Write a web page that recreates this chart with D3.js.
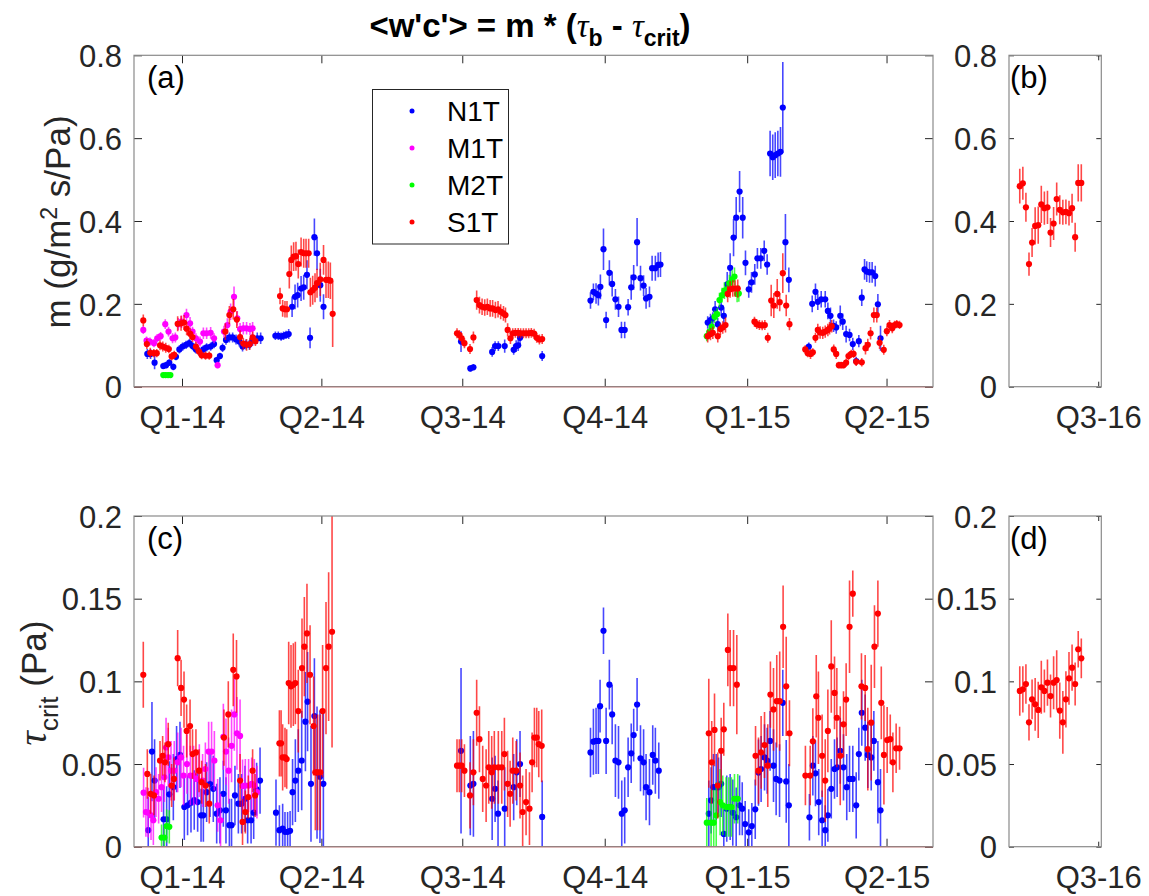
<!DOCTYPE html>
<html>
<head>
<meta charset="utf-8">
<script src="https://cdn.jsdelivr.net/npm/d3@7"></script>
<style>
  body { margin: 0; background: #fff; }
  svg text { font-family: "Liberation Sans", Arial, Helvetica, sans-serif; }
</style>
</head>
<body>
<svg id="chart" width="1149" height="896"></svg>
<script>
// Rows are [day since 2014-01-01, value, half-width of error bar]

// ---- N1T ----
const n1tM = [
  [-22.4,0.079,0.012],[-20.3,0.079,0.012],[-17.7,0.058,0.016],[-12.1,0.050,0.008],[-10.3,0.052,0.008],[-8.2,0.058,0.008],[-5.6,0.048,0.008],[-3.9,0.072,0.008],[-1.7,0.090,0.010],[0.4,0.097,0.010],[2.6,0.101,0.010],[4.7,0.105,0.010],[6.8,0.098,0.010],[9.0,0.090,0.010],[11.2,0.085,0.010],[13.8,0.090,0.010],[15.9,0.095,0.010],[18.5,0.097,0.010],[20.7,0.103,0.010],[22.4,0.064,0.008],[24.5,0.074,0.008],[26.2,0.094,0.010],[28.4,0.113,0.012],[30.6,0.119,0.012],[32.7,0.119,0.012],[34.9,0.114,0.012],[37.0,0.109,0.012],[39.1,0.097,0.012],[41.3,0.102,0.012],[43.5,0.101,0.012],[45.6,0.113,0.014],[48.6,0.117,0.014],[50.8,0.117,0.014],
  [60.3,0.123,0.010],[62.2,0.123,0.010],[64.0,0.121,0.010],[65.6,0.123,0.010],[67.2,0.125,0.010],[68.9,0.127,0.012],[71.1,0.193,0.025],[73.0,0.217,0.030],[74.7,0.221,0.030],[76.9,0.237,0.030],[78.6,0.240,0.030],[80.7,0.270,0.035],[82.7,0.118,0.025],[85.5,0.361,0.045],[87.2,0.322,0.040],[89.3,0.245,0.040],[91.4,0.193,0.030],
  [180.2,0.109,0.025],[186.2,0.044,0.008],[188.2,0.047,0.008],[200.3,0.084,0.012],[202.2,0.098,0.012],[204.3,0.098,0.012],[208.4,0.098,0.016],[214.2,0.089,0.012],[215.8,0.098,0.014],[217.1,0.100,0.014],[218.3,0.118,0.016],[232.6,0.074,0.012],
  [263.8,0.208,0.020],[265.7,0.229,0.020],[267.4,0.225,0.025],[268.9,0.221,0.025],[270.2,0.241,0.030],[272.2,0.332,0.050],[273.9,0.161,0.020],[276.0,0.275,0.030],[277.8,0.248,0.030],[279.9,0.211,0.025],[281.9,0.193,0.025],[283.8,0.137,0.020],[285.9,0.137,0.020],[288.1,0.192,0.020],[290.1,0.240,0.030],[291.7,0.264,0.030],[293.9,0.349,0.058],[296.1,0.262,0.030],[298.1,0.244,0.025],[299.7,0.213,0.025],[301.9,0.217,0.025],[303.6,0.286,0.030],[305.7,0.286,0.030],[307.5,0.294,0.030],[309.0,0.295,0.030],
  [339.5,0.155,0.015],[341.3,0.161,0.015],[342.8,0.165,0.015],[344.3,0.187,0.020],[346.0,0.151,0.015],[348.2,0.191,0.020],[349.9,0.171,0.020],[352.1,0.247,0.030],[354.0,0.287,0.035],[356.2,0.360,0.045],[357.9,0.408,0.050],[360.1,0.471,0.050],[362.1,0.408,0.050],[363.9,0.299,0.030],[366.0,0.235,0.020],[367.8,0.252,0.025],[369.9,0.271,0.025],[371.6,0.310,0.025],[373.8,0.310,0.025],[376.0,0.328,0.025],[377.9,0.295,0.025],[379.8,0.563,0.055],[381.5,0.554,0.055],[383.1,0.559,0.055],[384.8,0.563,0.055],[386.5,0.567,0.060],[388.0,0.674,0.110],[389.7,0.349,0.068],[391.9,0.258,0.030],[404.8,0.097,0.010],[407.0,0.200,0.020],[409.1,0.229,0.020],[410.6,0.205,0.020],[412.8,0.211,0.020],[415.4,0.211,0.020],[417.1,0.183,0.020],[418.8,0.171,0.020],[420.8,0.147,0.015],[422.5,0.143,0.015],[425.1,0.171,0.025],[426.7,0.157,0.020],[428.9,0.127,0.020],[431.1,0.125,0.015],[433.2,0.103,0.015],[435.4,0.062,0.010],[437.1,0.110,0.015],[439.0,0.215,0.020],[440.8,0.283,0.025],[442.2,0.278,0.025],[444.0,0.276,0.025],[445.7,0.276,0.025],[447.7,0.267,0.025],[449.4,0.199,0.025],[451.1,0.117,0.030]
];
const n1tTau = [
  [-21.8,0.010,0.020],[-19.4,0.0575,0.030],[-17.7,0.040,0.025],[-11.9,0.0166,0.020],[-9.9,0.0166,0.020],[-8.2,0.0317,0.020],[-5.6,0.036,0.020],[-3.5,0.053,0.020],[-1.3,0.0555,0.020],[1.5,0.024,0.020],[3.6,0.025,0.018],[5.8,0.0266,0.018],[7.9,0.0282,0.018],[10.1,0.027,0.018],[12.3,0.019,0.016],[13.8,0.019,0.016],[15.9,0.033,0.018],[18.1,0.038,0.020],[20.2,0.035,0.020],[22.4,0.020,0.018],[24.5,0.022,0.020],[26.7,0.032,0.020],[28.4,0.022,0.020],[30.6,0.013,0.016],[32.0,0.013,0.016],[34.2,0.031,0.018],[36.4,0.026,0.018],[38.5,0.026,0.018],[40.7,0.029,0.020],[42.4,0.016,0.014],[44.6,0.016,0.014],[46.3,0.0206,0.016],[48.2,0.0347,0.016],[50.4,0.040,0.020],
  [60.7,0.0206,0.020],[62.9,0.010,0.015],[65.0,0.011,0.015],[66.5,0.009,0.012],[68.2,0.009,0.012],[69.8,0.0096,0.012],[71.4,0.033,0.020],[73.2,0.040,0.025],[75.1,0.046,0.025],[77.3,0.052,0.030],[79.7,0.0756,0.030],[81.1,0.0877,0.030],[83.3,0.038,0.035],[85.5,0.079,0.035],[87.2,0.0448,0.040],[89.1,0.0423,0.040],[91.3,0.038,0.045],
  [180.2,0.058,0.050],[186.2,0.037,0.030],[188.2,0.038,0.032],[200.3,0.029,0.025],[202.2,0.035,0.020],[204.1,0.020,0.020],[208.4,0.023,0.025],[214.2,0.036,0.020],[216.2,0.045,0.020],[218.3,0.050,0.020],[232.6,0.018,0.022],
  [263.8,0.057,0.015],[265.7,0.0635,0.020],[267.4,0.064,0.020],[268.9,0.064,0.020],[270.0,0.085,0.016],[272.2,0.1306,0.014],[273.9,0.064,0.020],[276.0,0.098,0.015],[277.8,0.080,0.018],[279.9,0.052,0.022],[281.9,0.051,0.022],[284.0,0.020,0.020],[285.9,0.022,0.020],[288.1,0.048,0.018],[290.1,0.0565,0.018],[291.7,0.0675,0.016],[293.9,0.086,0.016],[296.1,0.0535,0.020],[298.1,0.051,0.020],[299.7,0.036,0.020],[301.9,0.033,0.020],[304.0,0.0555,0.018],[305.7,0.052,0.020],[307.9,0.046,0.017],
  [340.2,0.020,0.020],[341.7,0.028,0.020],[343.2,0.036,0.020],[345.0,0.036,0.020],[346.5,0.036,0.018],[348.2,0.038,0.020],[349.9,0.0077,0.015],[351.8,0.023,0.020],[354.0,0.024,0.020],[355.7,0.0206,0.020],[357.9,0.0178,0.018],[360.1,0.025,0.018],[361.8,0.023,0.016],[363.7,0.0137,0.014],[366.0,0.0087,0.014],[368.0,0.0125,0.014],[370.2,0.0226,0.018],[372.3,0.0448,0.020],[374.0,0.047,0.020],[376.2,0.054,0.020],[377.9,0.052,0.020],[379.8,0.064,0.018],[382.0,0.049,0.022],[383.7,0.041,0.022],[385.9,0.040,0.022],[388.0,0.087,0.020],[390.2,0.0395,0.025],[391.9,0.025,0.025],[405.2,0.0178,0.014],[407.4,0.049,0.018],[409.1,0.0444,0.020],[411.2,0.027,0.020],[413.4,0.016,0.018],[415.4,0.010,0.015],[417.1,0.019,0.016],[419.3,0.035,0.018],[421.4,0.047,0.018],[423.1,0.048,0.018],[425.1,0.058,0.020],[427.2,0.048,0.020],[429.3,0.036,0.020],[431.1,0.041,0.020],[433.2,0.041,0.020],[435.4,0.025,0.020],[437.1,0.056,0.016],[439.0,0.081,0.020],[441.2,0.072,0.020],[442.9,0.0555,0.020],[445.1,0.054,0.020],[446.8,0.064,0.018],[449.4,0.039,0.025],[451.1,0.022,0.025]
];

// ---- M1T ----
const m1tM = [
  [-25.0,0.137,0.010],[-22.9,0.111,0.010],[-20.7,0.109,0.010],[-18.1,0.105,0.010],[-16.0,0.117,0.010],[-13.8,0.122,0.010],[-10.8,0.151,0.012],[-8.7,0.133,0.012],[-6.1,0.117,0.012],[-4.3,0.119,0.012],[-2.4,0.151,0.015],[-0.3,0.157,0.015],[2.9,0.173,0.015],[5.2,0.153,0.015],[6.8,0.133,0.012],[9.0,0.117,0.012],[11.6,0.109,0.012],[13.8,0.129,0.014],[15.9,0.129,0.014],[18.5,0.130,0.014],[20.7,0.117,0.012],[23.0,0.052,0.008],[27.1,0.133,0.014],[29.3,0.149,0.016],[31.4,0.181,0.020],[33.6,0.217,0.025],[35.7,0.165,0.018],[37.5,0.139,0.015],[39.6,0.141,0.015],[41.7,0.141,0.015],[43.9,0.139,0.015],[45.6,0.141,0.015]
];
const m1tTau = [
  [-24.8,0.0327,0.015],[-23.3,0.021,0.015],[-21.8,0.0206,0.015],[-20.0,0.019,0.015],[-18.5,0.016,0.015],[-16.8,0.033,0.015],[-15.1,0.029,0.015],[-13.2,0.036,0.015],[-11.4,0.042,0.015],[-10.3,0.060,0.018],[-8.9,0.054,0.018],[-7.1,0.046,0.018],[-5.0,0.046,0.018],[-2.8,0.051,0.018],[-0.6,0.054,0.018],[1.0,0.043,0.018],[3.2,0.050,0.018],[5.4,0.043,0.018],[7.5,0.043,0.018],[9.4,0.041,0.016],[11.2,0.046,0.016],[13.3,0.040,0.016],[15.1,0.047,0.016],[17.2,0.0575,0.018],[19.1,0.0575,0.018],[20.9,0.052,0.018],[23.0,0.025,0.016],[24.9,0.016,0.016],[26.7,0.0665,0.020],[28.4,0.0575,0.020],[30.1,0.046,0.020],[32.0,0.061,0.022],[33.8,0.080,0.022],[35.5,0.0686,0.022],[37.5,0.067,0.022],[39.1,0.0367,0.016],[40.9,0.037,0.016],[43.0,0.037,0.016],[45.0,0.038,0.016],[46.7,0.037,0.016],[48.4,0.033,0.016]
];

// ---- M2T ----
const m2tM = [
  [-12.1,0.028,0.004],[-10.6,0.028,0.004],[-9.0,0.028,0.004],[-7.5,0.028,0.004],
  [338.9,0.122,0.012],[340.6,0.133,0.012],[342.1,0.145,0.014],[343.9,0.169,0.015],[345.6,0.175,0.015],[347.1,0.209,0.018],[348.8,0.221,0.018],[350.3,0.232,0.020],[352.1,0.235,0.020],[353.5,0.250,0.020],[355.3,0.259,0.022],[356.8,0.266,0.022],[358.5,0.224,0.020],[359.6,0.225,0.020]
];
const m2tTau = [
  [-13.2,0.0055,0.008],[-11.4,0.0055,0.008],[-9.9,0.0125,0.010],[-8.2,0.012,0.010],
  [338.9,0.0145,0.015],[341.7,0.0145,0.020],[343.4,0.0145,0.020],[345.0,0.019,0.020],[347.5,0.027,0.020],[349.2,0.025,0.018],[351.4,0.024,0.018],[353.1,0.024,0.018],[354.8,0.024,0.018],[356.8,0.029,0.015],[358.9,0.029,0.015]
];

// ---- S1T ----
const s1tM = [
  [-25.0,0.160,0.014],[-22.7,0.103,0.012],[-20.5,0.082,0.012],[-18.2,0.081,0.010],[-16.3,0.081,0.010],[-14.2,0.100,0.012],[-12.4,0.097,0.012],[-10.5,0.094,0.012],[-8.5,0.091,0.010],[-6.7,0.073,0.010],[-5.0,0.077,0.010],[-2.8,0.152,0.018],[-0.6,0.153,0.018],[1.3,0.155,0.018],[3.0,0.140,0.016],[5.2,0.128,0.014],[6.8,0.120,0.012],[9.0,0.097,0.012],[11.0,0.085,0.010],[12.7,0.076,0.010],[15.2,0.075,0.010],[17.6,0.075,0.010],[28.0,0.133,0.020],[30.6,0.173,0.022],[33.1,0.187,0.025],[35.4,0.162,0.020],[37.5,0.120,0.016],[39.6,0.104,0.014],[41.7,0.101,0.014],[43.8,0.103,0.014],[45.6,0.119,0.014],[47.4,0.110,0.012],
  [63.3,0.219,0.020],[65.0,0.189,0.020],[66.5,0.187,0.020],[67.8,0.187,0.020],[69.3,0.272,0.035],[70.6,0.306,0.035],[72.1,0.314,0.035],[73.6,0.315,0.035],[75.1,0.296,0.035],[76.9,0.325,0.035],[78.6,0.322,0.035],[80.1,0.322,0.035],[81.8,0.322,0.035],[82.9,0.228,0.035],[84.4,0.233,0.035],[85.9,0.239,0.035],[87.2,0.250,0.035],[89.3,0.259,0.040],[91.4,0.306,0.036],[93.0,0.258,0.044],[94.5,0.258,0.044],[95.8,0.256,0.044],[97.3,0.176,0.080],
  [177.6,0.129,0.012],[179.1,0.125,0.012],[180.6,0.117,0.012],[182.4,0.105,0.012],[186.0,0.091,0.012],[188.2,0.119,0.014],[190.3,0.209,0.023],[192.1,0.197,0.020],[193.8,0.193,0.020],[195.5,0.191,0.020],[197.2,0.193,0.020],[199.0,0.189,0.020],[200.6,0.189,0.020],[202.4,0.185,0.020],[204.1,0.187,0.020],[205.8,0.181,0.018],[207.6,0.177,0.018],[208.9,0.173,0.018],[210.3,0.137,0.016],[212.1,0.117,0.014],[213.6,0.129,0.012],[215.3,0.130,0.012],[217.1,0.130,0.012],[218.7,0.129,0.012],[220.5,0.129,0.012],[222.2,0.129,0.012],[223.9,0.129,0.012],[225.6,0.130,0.012],[227.4,0.128,0.012],[229.1,0.118,0.012],[230.8,0.114,0.012],[232.6,0.115,0.012],
  [339.5,0.122,0.015],[341.3,0.127,0.015],[342.8,0.130,0.015],[346.0,0.122,0.015],[347.7,0.139,0.015],[349.2,0.143,0.015],[351.0,0.149,0.018],[352.4,0.224,0.020],[354.0,0.235,0.020],[355.7,0.237,0.020],[357.2,0.237,0.020],[358.9,0.237,0.022],[369.7,0.157,0.012],[371.2,0.151,0.012],[372.9,0.149,0.012],[374.7,0.148,0.012],[376.4,0.149,0.012],[378.3,0.118,0.012],[380.5,0.208,0.038],[382.2,0.196,0.030],[384.4,0.224,0.036],[386.0,0.204,0.022],[388.0,0.274,0.048],[390.2,0.196,0.026],[392.3,0.151,0.015],[402.5,0.090,0.010],[404.1,0.081,0.010],[405.9,0.079,0.012],[407.4,0.083,0.010],[409.1,0.118,0.012],[410.6,0.137,0.015],[412.1,0.131,0.015],[413.8,0.130,0.015],[415.4,0.133,0.015],[417.1,0.137,0.015],[418.2,0.141,0.015],[419.6,0.146,0.015],[420.9,0.090,0.012],[422.5,0.079,0.012],[424.2,0.052,0.008],[425.7,0.052,0.008],[427.2,0.052,0.008],[428.9,0.058,0.010],[430.4,0.074,0.010],[432.2,0.079,0.010],[433.7,0.079,0.010],[435.4,0.060,0.010],[439.0,0.059,0.010],[441.4,0.093,0.015],[442.9,0.101,0.015],[444.7,0.129,0.015],[446.8,0.173,0.018],[448.7,0.173,0.018],[450.5,0.106,0.015],[453.2,0.089,0.012],[455.2,0.134,0.012],[456.9,0.149,0.012],[458.7,0.141,0.012],[460.2,0.149,0.010],[461.6,0.151,0.010],[463.4,0.149,0.010]
];
const s1tTau = [
  [-25.0,0.104,0.020],[-22.4,0.044,0.015],[-20.3,0.032,0.012],[-18.1,0.031,0.012],[-14.2,0.052,0.012],[-12.5,0.055,0.012],[-11.0,0.051,0.012],[-8.9,0.062,0.013],[-6.7,0.037,0.013],[-5.2,0.041,0.013],[-2.8,0.114,0.017],[-0.6,0.096,0.017],[1.3,0.089,0.017],[3.0,0.070,0.016],[5.2,0.073,0.016],[6.8,0.056,0.015],[9.0,0.057,0.014],[11.0,0.046,0.013],[12.7,0.039,0.013],[15.2,0.037,0.013],[17.6,0.026,0.012],[27.1,0.066,0.017],[29.9,0.080,0.020],[33.1,0.107,0.022],[35.2,0.103,0.022],[37.5,0.040,0.016],[39.1,0.015,0.014],[40.9,0.021,0.013],[42.8,0.030,0.013],[45.6,0.046,0.013],[47.2,0.031,0.013],
  [62.9,0.0625,0.020],[64.0,0.0625,0.020],[65.0,0.054,0.020],[66.5,0.054,0.018],[67.6,0.053,0.018],[68.9,0.099,0.025],[70.4,0.097,0.025],[71.9,0.098,0.025],[73.2,0.099,0.025],[75.1,0.082,0.025],[77.5,0.108,0.030],[79.0,0.121,0.030],[80.7,0.129,0.030],[82.7,0.104,0.030],[85.0,0.073,0.030],[86.1,0.045,0.035],[87.6,0.045,0.035],[89.3,0.045,0.035],[90.8,0.082,0.040],[93.0,0.108,0.040],[94.7,0.121,0.045],[96.9,0.130,0.070],
  [177.6,0.049,0.016],[179.1,0.049,0.016],[180.6,0.049,0.016],[182.4,0.046,0.016],[186.0,0.031,0.020],[188.2,0.045,0.020],[190.3,0.081,0.020],[192.1,0.065,0.020],[194.2,0.041,0.020],[196.4,0.037,0.022],[198.1,0.048,0.022],[200.0,0.045,0.022],[201.7,0.048,0.022],[204.3,0.048,0.022],[206.5,0.048,0.022],[208.2,0.056,0.022],[210.3,0.038,0.020],[211.9,0.032,0.020],[213.6,0.046,0.020],[215.8,0.046,0.018],[218.3,0.037,0.020],[220.0,0.021,0.022],[222.2,0.027,0.020],[224.4,0.023,0.022],[226.1,0.051,0.018],[227.6,0.066,0.018],[229.1,0.066,0.018],[230.4,0.062,0.020],[232.3,0.061,0.022],
  [340.2,0.0686,0.033],[342.1,0.051,0.025],[343.9,0.0706,0.022],[346.0,0.037,0.020],[348.2,0.058,0.020],[349.9,0.071,0.016],[352.5,0.119,0.022],[354.0,0.108,0.023],[356.2,0.108,0.023],[358.3,0.098,0.030],
  [370.4,0.055,0.018],[372.3,0.046,0.020],[374.0,0.057,0.022],[376.2,0.0615,0.020],[378.3,0.049,0.025],[380.0,0.092,0.020],[382.0,0.083,0.025],[384.1,0.088,0.028],[386.0,0.088,0.030],[388.2,0.133,0.025],[390.2,0.097,0.030],[392.3,0.0686,0.020],
  [402.6,0.043,0.018],[405.7,0.043,0.018],[407.4,0.0637,0.020],[409.6,0.091,0.025],[411.0,0.078,0.028],[413.4,0.055,0.025],[415.4,0.040,0.025],[417.1,0.070,0.025],[419.3,0.109,0.028],[421.4,0.093,0.022],[422.9,0.078,0.030],[425.1,0.055,0.030],[427.2,0.074,0.020],[428.9,0.089,0.022],[431.1,0.133,0.028],[433.2,0.153,0.014],
  [438.8,0.097,0.020],[441.2,0.096,0.020],[442.9,0.059,0.025],[445.1,0.075,0.035],[447.2,0.121,0.025],[449.4,0.141,0.020],[451.6,0.087,0.022],[453.3,0.0555,0.030],[455.4,0.0645,0.020],[457.4,0.065,0.015],[459.1,0.051,0.018],[461.2,0.0595,0.015],[463.4,0.0595,0.013]
];

// S1T, 2016 deployment
const s1tM16 = [
  [861,0.484,0.042],[863,0.491,0.040],[865,0.433,0.035],[867,0.296,0.028],[869,0.348,0.035],[871,0.388,0.045],[873,0.390,0.045],[875,0.440,0.045],[877,0.431,0.040],[879,0.433,0.040],[881,0.372,0.035],[883,0.394,0.040],[885,0.453,0.040],[887,0.427,0.035],[889,0.421,0.030],[891,0.422,0.030],[893,0.419,0.030],[895,0.431,0.035],[897,0.361,0.035],[899,0.492,0.045],[901,0.492,0.045]
];
const s1tTau16 = [
  [861,0.0942,0.015],[863,0.0952,0.014],[865,0.0984,0.012],[867,0.0752,0.011],[869,0.0891,0.012],[871,0.0861,0.016],[873,0.0827,0.017],[875,0.0964,0.016],[877,0.0942,0.013],[879,0.0992,0.014],[881,0.0911,0.013],[883,0.0992,0.016],[885,0.1008,0.018],[887,0.0823,0.017],[889,0.0752,0.019],[891,0.0891,0.017],[893,0.1018,0.016],[895,0.1083,0.014],[897,0.0984,0.013],[899,0.1194,0.011],[901,0.1139,0.012]
];

// Series names and colours, in plotting order
const seriesNames = ["N1T", "M1T", "M2T", "S1T"];
const seriesColors = ["#0000ff", "#ff00ff", "#00ff00", "#ff0000"];

// Axis ticks
const quarterTicks = ["2014-01-01", "2014-04-01", "2014-07-01", "2014-10-01", "2015-01-01", "2015-04-01"];
const quarterTicks16 = ["2016-07-01"];
const mTicks = [0, 0.2, 0.4, 0.6, 0.8];
const tauTicks = [0, 0.05, 0.1, 0.15, 0.2];

const DAY0 = Date.UTC(2014, 0, 1);
const toDate = d => new Date(DAY0 + d * 864e5);
const parseDay = s => new Date(s + "T00:00:00Z");
const quarterLabel = d => `Q${Math.floor(d.getUTCMonth() / 3) + 1}-${String(d.getUTCFullYear()).slice(2)}`;

const svg = d3.select("#chart");
const TEXT = "#262626";
const FONT = 31;

function drawPanel(cfg) {
  const { left, right, top, bottom } = cfg.box;
  const x = d3.scaleUtc().domain(cfg.xDomain.map(parseDay)).range([left, right]);
  const y = d3.scaleLinear().domain(cfg.yDomain).range([bottom, top]);
  const g = svg.append("g");

  g.append("clipPath").attr("id", "clip-" + cfg.id)
    .append("rect").attr("x", left).attr("y", top)
    .attr("width", right - left).attr("height", bottom - top);

  g.append("rect").attr("x", left).attr("y", top)
    .attr("width", right - left).attr("height", bottom - top).attr("fill", "#fff");

  const tickVals = cfg.xTicks.map(parseDay);

  // bottom axis with labels
  const gx = g.append("g").attr("transform", `translate(0,${bottom})`)
    .call(d3.axisBottom(x).tickValues(tickVals).tickFormat(quarterLabel)
      .tickSizeInner(-cfg.tick).tickSizeOuter(0));
  // top axis (ticks only)
  const gxt = g.append("g").attr("transform", `translate(0,${top})`)
    .call(d3.axisTop(x).tickValues(tickVals).tickFormat("")
      .tickSizeInner(-cfg.tick).tickSizeOuter(0));
  // left axis with labels
  const gy = g.append("g").attr("transform", `translate(${left},0)`)
    .call(d3.axisLeft(y).tickValues(cfg.yTicks).tickFormat(d => String(d))
      .tickSizeInner(-cfg.tick).tickSizeOuter(0));
  // right axis (ticks only)
  const gyr = g.append("g").attr("transform", `translate(${right},0)`)
    .call(d3.axisRight(y).tickValues(cfg.yTicks).tickFormat("")
      .tickSizeInner(-cfg.tick).tickSizeOuter(0));

  [gx, gxt, gy, gyr].forEach(a => {
    a.select(".domain").remove();
    a.selectAll(".tick line").attr("stroke", "#262626").attr("stroke-width", 1);
    a.attr("font-family", null).attr("font-size", null);
  });
  gx.selectAll(".tick text").attr("y", 41).attr("dy", null)
    .attr("font-size", FONT).attr("fill", TEXT);
  gy.selectAll(".tick text").attr("x", -12).attr("dy", "0.36em")
    .attr("font-size", FONT).attr("fill", TEXT);

  // data: error bars then markers for each series
  const plot = g.append("g").attr("clip-path", `url(#clip-${cfg.id})`);
  cfg.series.forEach(s => {
    const sg = plot.append("g");
    sg.selectAll("line").data(s.rows).join("line")
      .attr("x1", d => x(toDate(d[0]))).attr("x2", d => x(toDate(d[0])))
      .attr("y1", d => y(d[1] - d[2])).attr("y2", d => y(d[1] + d[2]))
      .attr("stroke", s.color).attr("stroke-opacity", 0.72).attr("stroke-width", 1.6);
    sg.selectAll("circle").data(s.rows).join("circle")
      .attr("cx", d => x(toDate(d[0]))).attr("cy", d => y(d[1]))
      .attr("r", 3.1).attr("fill", s.color);
  });

  if (cfg.zeroLine) {
    g.append("line").attr("x1", left).attr("x2", right)
      .attr("y1", y(0)).attr("y2", y(0))
      .attr("stroke", "#ff0000").attr("stroke-width", 1);
  }

  // box
  g.append("rect").attr("x", left).attr("y", top)
    .attr("width", right - left).attr("height", bottom - top)
    .attr("fill", "none").attr("stroke", "#8a8a8a").attr("stroke-width", 1.2);

  g.append("text").attr("x", left + cfg.labelDx).attr("y", top + 33)
    .attr("font-size", FONT).attr("fill", "#000").text(cfg.label);

  return { x, y };
}

const mainDomain = ["2013-12-01", "2015-05-01"];
const domain16 = ["2016-05-04", "2016-07-03"];

drawPanel({
  id: "a", box: { left: 134, right: 933, top: 55.3, bottom: 386.7 },
  xDomain: mainDomain, yDomain: [0, 0.8], xTicks: quarterTicks, yTicks: mTicks,
  tick: 8, label: "(a)", labelDx: 13, zeroLine: true,
  series: [
    { color: seriesColors[0], rows: n1tM },
    { color: seriesColors[1], rows: m1tM },
    { color: seriesColors[2], rows: m2tM },
    { color: seriesColors[3], rows: s1tM }
  ]
});
drawPanel({
  id: "b", box: { left: 1009, right: 1101.3, top: 55.3, bottom: 386.7 },
  xDomain: domain16, yDomain: [0, 0.8], xTicks: quarterTicks16, yTicks: mTicks,
  tick: 5, label: "(b)", labelDx: 1, zeroLine: false,
  series: [{ color: seriesColors[3], rows: s1tM16 }]
});
drawPanel({
  id: "c", box: { left: 134, right: 933, top: 516, bottom: 846.7 },
  xDomain: mainDomain, yDomain: [0, 0.2], xTicks: quarterTicks, yTicks: tauTicks,
  tick: 8, label: "(c)", labelDx: 13, zeroLine: true,
  series: [
    { color: seriesColors[0], rows: n1tTau },
    { color: seriesColors[1], rows: m1tTau },
    { color: seriesColors[2], rows: m2tTau },
    { color: seriesColors[3], rows: s1tTau }
  ]
});
drawPanel({
  id: "d", box: { left: 1009, right: 1101.3, top: 516, bottom: 846.7 },
  xDomain: domain16, yDomain: [0, 0.2], xTicks: quarterTicks16, yTicks: tauTicks,
  tick: 5, label: "(d)", labelDx: 1, zeroLine: false,
  series: [{ color: seriesColors[3], rows: s1tTau16 }]
});

// Title
const title = svg.append("text").attr("x", 530).attr("y", 37)
  .attr("text-anchor", "middle").attr("font-size", 33).attr("font-weight", "bold").attr("fill", "#000");
title.append("tspan").text("<w'c'> = m * (");
title.append("tspan").attr("font-family", "'Liberation Serif', serif").attr("font-style", "italic").attr("font-weight", "normal").text("τ");
title.append("tspan").attr("font-size", 23).attr("dy", 9).text("b");
title.append("tspan").attr("dy", -9).text(" - ");
title.append("tspan").attr("font-family", "'Liberation Serif', serif").attr("font-style", "italic").attr("font-weight", "normal").text("τ");
title.append("tspan").attr("font-size", 23).attr("dy", 9).text("crit");
title.append("tspan").attr("dy", -9).text(")");

// Y axis labels
const ylabA = svg.append("text").attr("transform", "translate(70,222) rotate(-90)")
  .attr("text-anchor", "middle").attr("font-size", 35).attr("fill", TEXT);
ylabA.append("tspan").text("m (g/m");
ylabA.append("tspan").attr("font-size", 23).attr("dy", -13).text("2");
ylabA.append("tspan").attr("dy", 13).text(" s/Pa)");

const ylabC = svg.append("text").attr("transform", "translate(46,683) rotate(-90)")
  .attr("text-anchor", "middle").attr("font-size", 35).attr("fill", TEXT);
ylabC.append("tspan").attr("font-family", "'Liberation Serif', serif").attr("font-style", "italic").attr("font-size", 40).text("τ");
ylabC.append("tspan").attr("font-size", 26).attr("dy", 12).text("crit");
ylabC.append("tspan").attr("dy", -12).text(" (Pa)");

// Legend
const legend = svg.append("g");
legend.append("rect").attr("x", 372.5).attr("y", 89.5).attr("width", 136).attr("height", 154.5)
  .attr("fill", "#fff").attr("stroke", "#262626").attr("stroke-width", 1);
const legendY = d3.scalePoint().domain(seriesNames).range([111, 222]);
seriesNames.forEach((name, i) => {
  legend.append("circle").attr("cx", 412).attr("cy", legendY(name)).attr("r", 2.5).attr("fill", seriesColors[i]);
  legend.append("text").attr("x", 447).attr("y", legendY(name) + 10)
    .attr("font-size", 28).attr("fill", "#000").text(name);
});
</script>
</body>
</html>
